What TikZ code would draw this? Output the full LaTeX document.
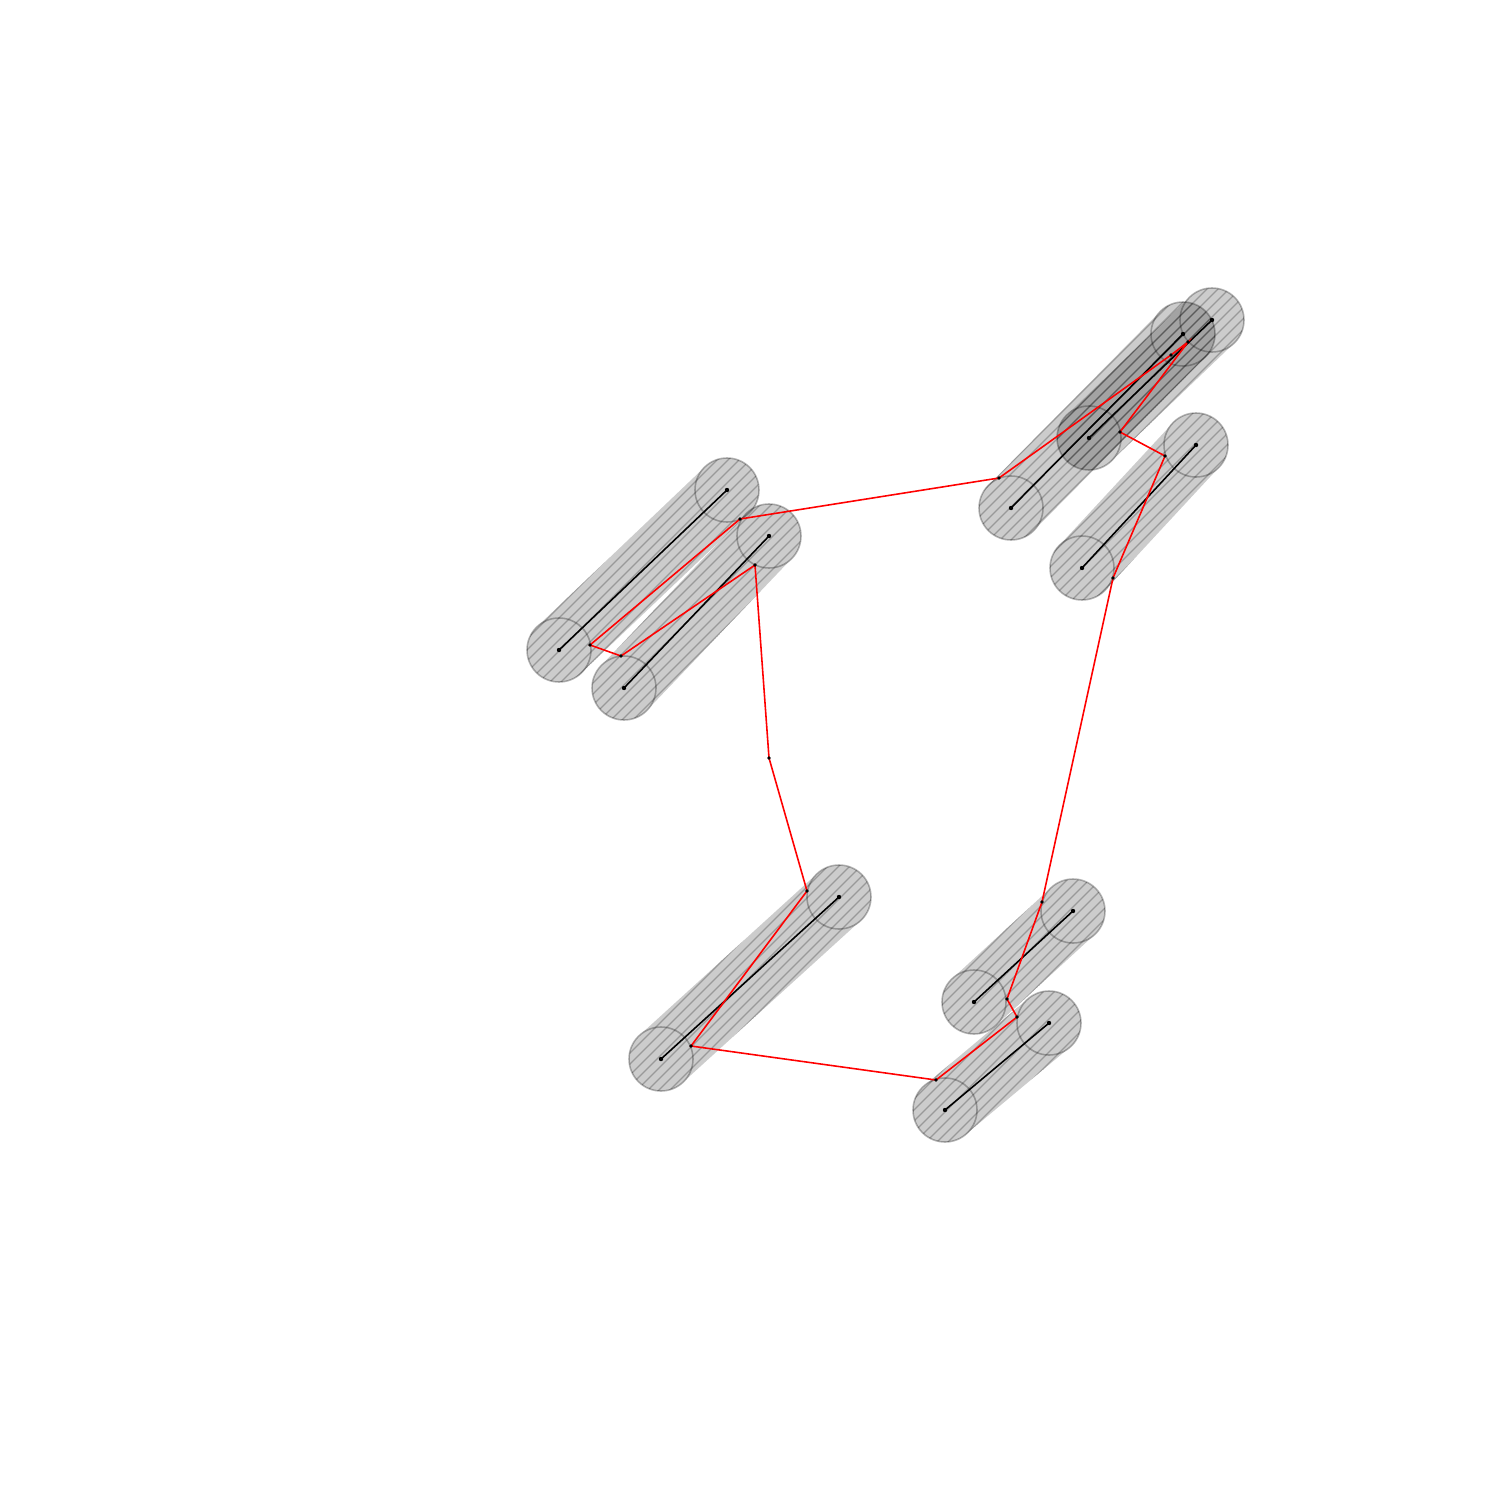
\documentclass[tikz,border=0pt]{standalone}
\usetikzlibrary{calc}
\tikzset{
  capfill/.style={fill=black, fill opacity=0.2},
  hatchline/.style={draw=black, draw opacity=0.25, line width=0.35pt},
  capring/.style={draw=black, draw opacity=0.28, line width=0.45pt},
  axisline/.style={draw=black, line width=0.45pt},
  pathline/.style={draw=red, line width=0.45pt},
  vdot/.style={fill=black},
}
\newcommand\mycapsule[5]{%
  \coordinate (#1s) at (#2,#3);
  \coordinate (#1e) at (#4,#5);
  \pgfmathsetmacro\capang{atan2(-(#5-#3),#4-#2)}%
  \pgfmathsetmacro\caplen{veclen(#4-#2,#5-#3)}%
  \pgfmathtruncatemacro\hA{floor((min(#2,#4)+min(#3,#5)-80)/11)}%
  \pgfmathtruncatemacro\hB{floor((max(#2,#4)+max(#3,#5)+80)/11)}%
  \begin{scope}
    \path[clip, shift={(#2,#3)}, rotate=\capang] (0,-32) -- (\caplen,-32)
      arc[start angle=-90,end angle=90,radius=32] -- (0,32)
      arc[start angle=90,end angle=270,radius=32] -- cycle;
    \fill[capfill] (0,0) rectangle (1500,1500);
    \foreach \k in {\hA,...,\hB}{
      \draw[hatchline] ({\k*11-1500},1500) -- ({\k*11},0);
    }
  \end{scope}
}
\begin{document}
\begin{tikzpicture}[x=0.01cm,y=-0.01cm]
\useasboundingbox (0,0) rectangle (1500,1500);
% capsules
\mycapsule{A}{559}{650}{727}{490}
\mycapsule{B}{624}{688}{769}{536}
\mycapsule{Ca}{1011}{508}{1183}{334}
\mycapsule{Cb}{1089}{438}{1212}{320}
\mycapsule{D}{1082}{568}{1196}{445}
\mycapsule{E}{661}{1059}{839}{897}
\mycapsule{F}{974}{1002}{1073}{911}
\mycapsule{G}{945}{1110}{1049}{1023}
% end circles
\foreach \n in {A,B,Ca,Cb,D,E,F,G}{
  \draw[capring] (\n s) circle[radius=32];
  \draw[capring] (\n e) circle[radius=32];
}
% axes
\foreach \n in {A,B,Ca,Cb,D,E,F,G}{
  \draw[axisline] (\n s) -- (\n e);
  \fill[vdot] (\n s) circle[radius=2.2];
  \fill[vdot] (\n e) circle[radius=2.2];
}
% red path
\coordinate (p1) at (999,478);
\coordinate (p2) at (740,519);
\coordinate (p3) at (590,645);
\coordinate (p4) at (621,656);
\coordinate (p5) at (755,565);
\coordinate (p6) at (769,758);
\coordinate (p7) at (807,891);
\coordinate (p8) at (691,1046);
\coordinate (p9) at (936,1080);
\coordinate (p10) at (1017,1017);
\coordinate (p11) at (1007,999);
\coordinate (p12) at (1042,902);
\coordinate (p13) at (1113,578);
\coordinate (p14) at (1165,456);
\coordinate (p15) at (1120,432);
\coordinate (p16) at (1188,342);
\coordinate (p17) at (1171,355);
\draw[pathline] (p1) -- (p2) -- (p3) -- (p4) -- (p5) -- (p6) -- (p7) -- (p8) -- (p9)
  -- (p10) -- (p11) -- (p12) -- (p13) -- (p14) -- (p15) -- (p16) -- (p17) -- cycle;
\foreach \i in {1,...,17}{
  \fill[vdot] (p\i) circle[radius=1.8];
}
\end{tikzpicture}
\end{document}
